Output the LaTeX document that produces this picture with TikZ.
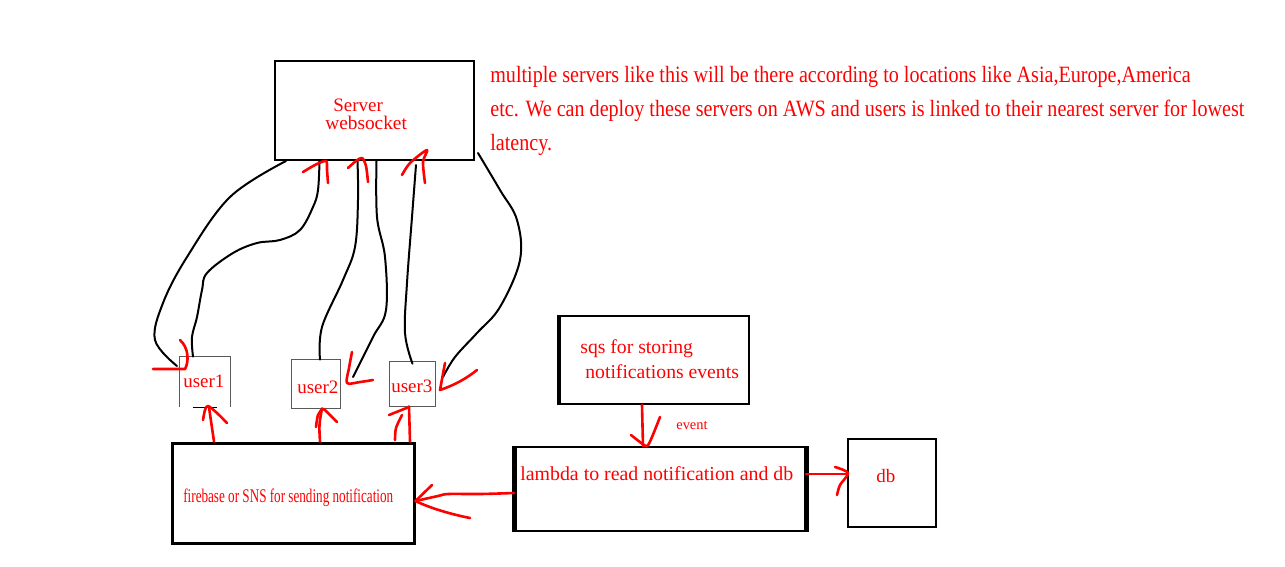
\documentclass[tikz,border=0pt]{standalone}
\usepackage{fontspec}
\setmainfont{Liberation Serif}
\newfontfamily\narrowfont[FakeStretch=0.86]{Liberation Serif}
\newfontfamily\squeezefont[FakeStretch=0.68]{Liberation Serif}
\newdimen\px \px=0.02cm

\tikzset{
  box/.style={draw=black,line width=2\px,inner sep=0pt},
  userbox/.style={inner sep=0pt},
  wire/.style={black,line width=2\px,line cap=round,line join=round},
  pen/.style={red,line width=2.6\px,line cap=round,line join=round},
  lbl/.style={text=red,inner sep=0pt,anchor=base west,font=\fontsize{10.8}{13}\selectfont},
}

\begin{document}
\begin{tikzpicture}[x=1\px,y=-1\px]
\useasboundingbox (0,0) rectangle (1285,566);
% boxes
\node[box,minimum width=199\px,minimum height=99\px] (srv) at (374.5,110.5) {};
\node[userbox,minimum width=50\px,minimum height=50\px] (u1) at (205,382) {};
\node[userbox,minimum width=48\px,minimum height=48\px] (u2) at (316,384) {};
\node[userbox,minimum width=45\px,minimum height=44\px] (u3) at (412.5,384) {};
\node[box,line width=3\px,minimum width=242\px,minimum height=100\px] (fb) at (293,493) {};
\node[box,minimum width=189\px,minimum height=88\px] (sqs) at (654.5,360) {};
\node[box,minimum width=290\px,minimum height=84\px] (lam) at (660,489) {};
\node[box,line width=1.6\px,minimum width=88\px,minimum height=88\px] (db) at (892,483) {};
\draw[black!65,line width=1.2\px] (u1.south west) -- (u1.north west) -- (u1.north east) -- (u1.south east);
\draw[black,line width=1.2\px] ([xshift=13\px]u1.south west) -- ([xshift=-13\px]u1.south east);
\draw[black!65,line width=1.2\px] (u2.south west) rectangle (u2.north east);
\draw[black!65,line width=1.2\px] (u3.south west) rectangle (u3.north east);
\draw[line width=4\px] (sqs.north west) -- (sqs.south west);
\draw[line width=5\px] (lam.north west) -- (lam.south west);
\draw[line width=5\px] (lam.north east) -- (lam.south east);

% texts
\node[lbl] (srv1) at (333,111) {Server};
\node[lbl,font=\fontsize{11}{13}\selectfont] (srv2) at (325,129) {websocket};
\node[lbl,font=\narrowfont\fontsize{13.3}{16}\selectfont] (note1) at (490,82)
  {multiple servers like this will be there according to locations like Asia,Europe,America};
\node[lbl,font=\narrowfont\fontsize{13.3}{16}\selectfont] (note2) at (490,116)
  {etc. We can deploy these servers on AWS and users is linked to their nearest server for lowest};
\node[lbl,font=\narrowfont\fontsize{13.3}{16}\selectfont] (note3) at (490,150) {latency.};
\node[lbl] (u1txt) at (183,387) {user1};
\node[lbl] (u2txt) at (297,393) {user2};
\node[lbl] (u3txt) at (391,392) {user3};
\node[lbl,font=\squeezefont\fontsize{11}{13}\selectfont] (fbtxt) at (183,502) {firebase or SNS for sending notification};
\node[lbl,font=\fontsize{11.2}{13}\selectfont] (sqs1) at (580,353) {sqs for storing};
\node[lbl,font=\fontsize{11.2}{13}\selectfont] (sqs2) at (585,378) {notifications events};
\node[lbl,font=\fontsize{8.2}{10}\selectfont] (evt) at (676,429) {event};
\node[lbl,font=\fontsize{11.3}{13}\selectfont] (lamtxt) at (520,480) {lambda to read notification and db};
\node[lbl] (dbtxt) at (876,482) {db};

% wires between users and server
\coordinate (a1) at ([xshift=12\px]srv.south west);
\coordinate (a2) at ([xshift=-55\px]srv.south);
\coordinate (a3) at ([xshift=-17\px]srv.south);
\coordinate (a4) at ([xshift=2\px]srv.south);
\draw[wire] plot[smooth,tension=0.6] coordinates {(a1) (230,197) (187,257) (163,303) (155,340) (177,366)};
\draw[wire] plot[smooth,tension=0.6] coordinates {([xshift=-12\px]u1.north) (192,337) (197,317) (202,290) (207,273) (233,253) (257,243) (280,240) (300,230) (313,207) (318,190) (a2)};
\draw[wire] plot[smooth,tension=0.6] coordinates {([xshift=4\px]u2.north) (322,327) (343,280) (355,247) (358,200) (a3)};
\draw[wire] plot[smooth,tension=0.6] coordinates {(a4) (377,217) (385,257) (386,310) (373,337) (353,377)};
\draw[wire] plot[smooth,tension=0.6] coordinates {([yshift=-2\px]u3.north) (405,333) (407,283) (412,217) (416,165)};
\draw[wire] plot[smooth,tension=0.6] coordinates {([xshift=3\px,yshift=8\px]srv.south east) (500,190) (517,220) (520,260) (500,307) (477,333) (455,357) (443,377)};

% red hand arrows
\draw[pen] (153,369) -- (185,369) .. controls (189,362) and (189,348) .. (180,340);
\draw[pen] plot[smooth,tension=0.5] coordinates {(303,172) (315,165) (326,161) (327,170) (328,183)};
\draw[pen] plot[smooth,tension=0.5] coordinates {(348,168) (356,161) (362,158) (366,166) (368,182)};
\draw[pen] plot[smooth,tension=0.5] coordinates {(402,175) (410,163) (427,150) (423,162) (425,183)};
\draw[pen] plot[smooth,tension=0.5] coordinates {(352,352) (349,368) (347,383) (360,382) (373,380)};
\draw[pen] (445,363) -- (440,390) .. controls (455,385) and (467,378) .. (477,370);
% from firebase up to users
\draw[pen] (214,0 |- fb.north) -- (209,0 |- u1.south);
\draw[pen] plot[smooth,tension=0.5] coordinates {(203,420) (205,410) (208,406) (217,413) (227,423)};
\draw[pen] (320,0 |- fb.north) .. controls (319,425) .. (322,0 |- u2.south);
\draw[pen] plot[smooth,tension=0.5] coordinates {(316,427) (318,415) (323,409) (328,413) (337,422)};
\draw[pen] (410,0 |- fb.north) -- (409,0 |- u3.south);
\draw[pen] (389,415) -- (409,407);
\draw[pen] plot[smooth,tension=0.5] coordinates {(395,440) (396,428) (402,415)};
% lambda to firebase
\coordinate (fbin) at ([yshift=-8\px]fb.east);
\draw[pen] plot[smooth,tension=0.5] coordinates {([yshift=-4\px]lam.west) (480,494) (448,494) (438,496) (fbin)};
\draw[pen] (432,485) -- (fbin) .. controls (430,508) and (450,514) .. (470,518);
% sqs to lambda
\draw[pen] (642,0 |- sqs.south) -- (643,0 |- lam.north);
\draw[pen] plot[smooth,tension=0.5] coordinates {(631,435) (640,442) (647,446) (652,437) (660,417)};
% lambda to db
\draw[pen] (lam.east |- 0,474) -- (db.west |- 0,474);
\draw[pen] plot[smooth,tension=0.5] coordinates {(835,467) (848,473) (840,485) (837,495)};
\end{tikzpicture}
\end{document}
